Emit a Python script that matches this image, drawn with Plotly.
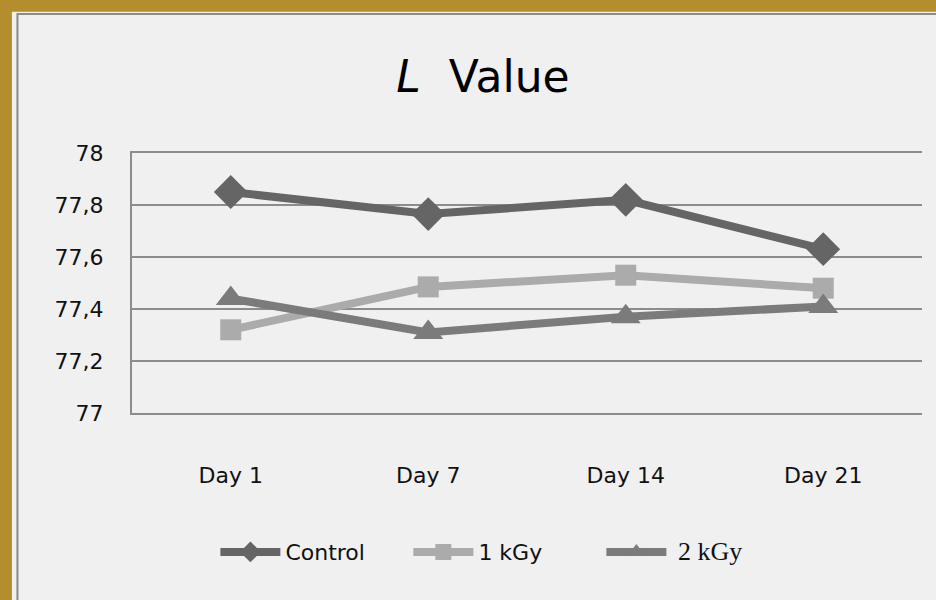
import plotly.graph_objects as go

categories = ["Day 1", "Day 7", "Day 14", "Day 21"]
control = [77.85, 77.765, 77.82, 77.63]
kgy1 = [77.32, 77.485, 77.53, 77.48]
kgy2 = [77.44, 77.31, 77.37, 77.41]
series_names = ["Control", "1 kGy", "<span style='font-family:Liberation Serif;font-size:26px'> 2 kGy</span>"]
y_ticks = [77, 77.2, 77.4, 77.6, 77.8, 78]
y_ticktext = ["77", "77,2", "77,4", "77,6", "77,8", "78"]

fig = go.Figure()
fig.add_trace(go.Scatter(x=categories, y=control, name=series_names[0], mode="lines+markers",
                         line=dict(color="#656565", width=8),
                         marker=dict(symbol="diamond", size=26, color="#656565")))
fig.add_trace(go.Scatter(x=categories, y=kgy1, name=series_names[1], mode="lines+markers",
                         line=dict(color="#ababab", width=8),
                         marker=dict(symbol="square", size=21, color="#ababab")))
fig.add_trace(go.Scatter(x=categories, y=kgy2, name=series_names[2], mode="lines+markers",
                         line=dict(color="#7b7b7b", width=8),
                         marker=dict(symbol="triangle-up", size=26, color="#7b7b7b")))

# decorative background: golden frame with light panel
fig.add_shape(type="rect", xref="paper", yref="paper", x0=-0.152, x1=1.2, y0=-1.0, y1=1.543,
              fillcolor="#f0f0f0", line=dict(width=0), layer="below")
fig.add_shape(type="rect", xref="paper", yref="paper", x0=-0.145, x1=1.2, y0=-1.0, y1=1.535,
              fillcolor="rgba(0,0,0,0)", line=dict(color="#8a8a8a", width=2), layer="below")

fig.update_layout(
    width=936, height=600,
    paper_bgcolor="#b38d2e",
    plot_bgcolor="#f0f0f0",
    margin=dict(l=132, r=14, t=153, b=187),
    title=dict(text="<i>L</i>  Value", x=0.516, xanchor="center", y=0.872, yanchor="middle",
               font=dict(family="DejaVu Sans", size=44, color="#000000")),
    font=dict(family="DejaVu Sans", color="#111111"),
    xaxis=dict(type="category", range=[-0.5, 3.5], showgrid=False, zeroline=False,
               showline=True, mirror=True,
               linecolor="#8c8c8c", linewidth=2, automargin=False,
               ticks="", tickfont=dict(size=22), ticklabelstandoff=42),
    yaxis=dict(range=[77, 78], tickvals=y_ticks, ticktext=y_ticktext,
               showgrid=True, gridcolor="#8c8c8c", gridwidth=2, zeroline=False,
               showline=True, linecolor="#8c8c8c", linewidth=2, ticks="", automargin=False,
               tickfont=dict(size=22), ticklabelstandoff=22),
    legend=dict(orientation="h", x=0.472, xanchor="center", y=-0.535, yanchor="middle",
                font=dict(size=22), bgcolor="rgba(0,0,0,0)", itemwidth=60,
                entrywidth=118, entrywidthmode="pixels"),
    showlegend=True,
)

fig.write_html("out.html", config={"displayModeBar": False},
               post_script="document.body.style.margin='0';document.body.style.background='#b38d2e';")
